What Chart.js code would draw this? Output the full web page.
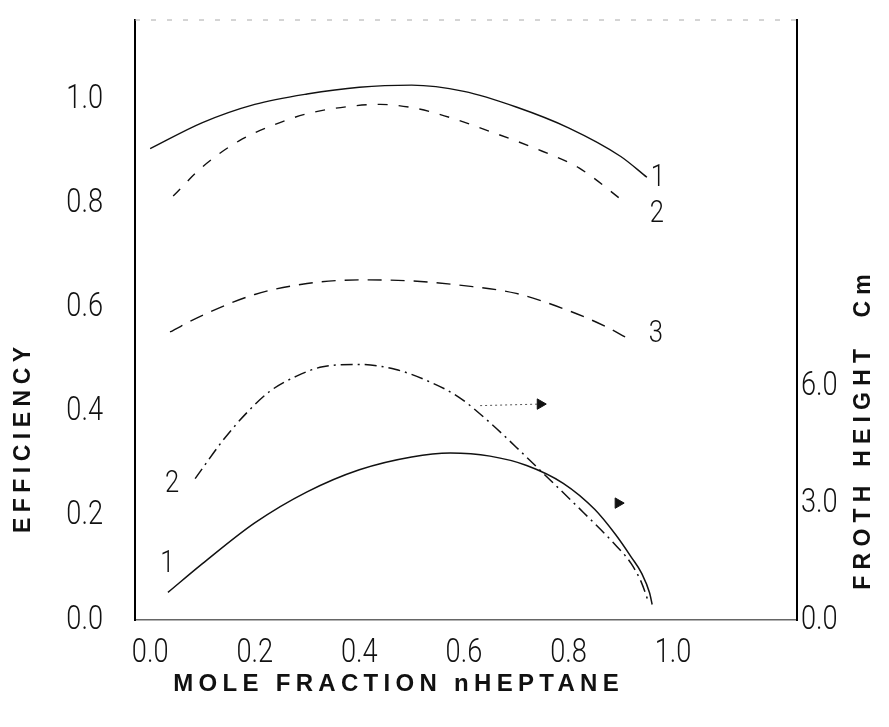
<!DOCTYPE html>
<html>
<head>
<meta charset="utf-8">
<title>Efficiency and froth height vs mole fraction n-heptane</title>
<script src="https://cdn.jsdelivr.net/npm/chart.js@4.4.1/dist/chart.umd.min.js"></script>
<style>
    html, body { margin: 0; padding: 0; background: #fff; }
    #wrap { width: 889px; height: 727px; }
</style>
</head>
<body>
<div id="wrap"><canvas id="froth_chart" width="889" height="727"></canvas></div>
<script>
// efficiency curves (left axis), x = mole fraction nHEPTANE
var effX1 = [0.0, 0.1, 0.2, 0.3, 0.4, 0.5, 0.6, 0.7, 0.8, 0.9, 0.95];
var eff1  = [0.905, 0.955, 0.99, 1.01, 1.023, 1.027, 1.015, 0.985, 0.945, 0.89, 0.85];
var effX2 = [0.044, 0.1, 0.17, 0.23, 0.3, 0.38, 0.44, 0.5, 0.55, 0.65, 0.75, 0.82, 0.91];
var eff2  = [0.814, 0.87, 0.92, 0.948, 0.972, 0.986, 0.99, 0.984, 0.972, 0.938, 0.9, 0.868, 0.80];
var effX3 = [0.038, 0.1, 0.2, 0.3, 0.4, 0.5, 0.6, 0.7, 0.8, 0.87, 0.92];
var eff3  = [0.553, 0.585, 0.625, 0.646, 0.653, 0.651, 0.642, 0.627, 0.594, 0.564, 0.537];

// froth height curves (right axis, cm)
var frothX1 = [0.034, 0.1, 0.2, 0.3, 0.4, 0.5, 0.574, 0.65, 0.72, 0.79, 0.85, 0.89, 0.92, 0.94, 0.955, 0.96];
var froth1  = [0.71, 1.45, 2.5, 3.3, 3.87, 4.2, 4.3, 4.22, 3.98, 3.52, 2.85, 2.2, 1.62, 1.2, 0.7, 0.4];
var frothX2 = [0.086, 0.14, 0.185, 0.23, 0.28, 0.33, 0.40, 0.47, 0.53, 0.59, 0.65, 0.70, 0.75, 0.83, 0.885, 0.92, 0.94, 0.952];
var froth2  = [3.64, 4.64, 5.34, 5.9, 6.28, 6.52, 6.58, 6.45, 6.16, 5.74, 5.08, 4.45, 3.8, 2.75, 2.0, 1.45, 0.95, 0.5];

// arrows telling which curves belong to the right axis
var arrowX1 = [0.631, 0.746];
var arrowY1 = [5.52, 5.56];
var arrowX2 = [0.895];
var arrowY2 = [3.01];

// tick values
var xTicks = [0, 0.2, 0.4, 0.6, 0.8, 1.0];
var effTicks = [0, 0.2, 0.4, 0.6, 0.8, 1.0];
var frothTicks = [0, 3, 6];

function pts(xs, ys) {
    return xs.map(function (x, i) { return { x: x, y: ys[i] }; });
}

// curve numbers, placed in data coordinates
var curveTags = [
    { text: '1', x: 0.971, y: 0.848, axis: 'yEff' },
    { text: '2', x: 0.969, y: 0.779, axis: 'yEff' },
    { text: '3', x: 0.967, y: 0.549, axis: 'yEff' },
    { text: '2', x: 0.042, y: 3.5, axis: 'yFroth' },
    { text: '1', x: 0.033, y: 1.44, axis: 'yFroth' }
];

var numberFont = '300 34px Roboto, "DejaVu Sans", sans-serif';

// narrow, thin figures like the lettering on the original drawing
function squeezed(ctx, text, x, y, align) {
    ctx.save();
    ctx.translate(x, y);
    ctx.scale(0.8, 1);
    ctx.textAlign = align;
    ctx.fillText(text, 0, 0);
    ctx.restore();
}

function spacedText(ctx, text, x, y, angle, font, spacing) {
    ctx.save();
    ctx.translate(x, y);
    ctx.rotate(angle);
    ctx.font = font;
    ctx.letterSpacing = spacing + 'px';
    ctx.textAlign = 'center';
    ctx.textBaseline = 'middle';
    ctx.fillStyle = '#111';
    ctx.fillText(text, spacing / 2, 0);
    ctx.restore();
}

var decorations = {
    id: 'decorations',
    beforeDatasetsDraw(chart) {
        // faint dashed top edge of the frame
        var ctx = chart.ctx, a = chart.chartArea;
        ctx.save();
        ctx.strokeStyle = '#aaa';
        ctx.lineWidth = 1;
        ctx.setLineDash([5, 11]);
        ctx.beginPath();
        ctx.moveTo(a.left, a.top);
        ctx.lineTo(a.right, a.top);
        ctx.stroke();
        ctx.restore();
    },
    afterDraw(chart) {
        var ctx = chart.ctx, a = chart.chartArea;
        var xs = chart.scales.x, ye = chart.scales.yEff, yf = chart.scales.yFroth;
        ctx.save();
        ctx.fillStyle = '#111';
        ctx.font = numberFont;
        ctx.textBaseline = 'middle';
        xTicks.forEach(function (v) { squeezed(ctx, v.toFixed(1), xs.getPixelForValue(v), a.bottom + 33, 'center'); });
        effTicks.forEach(function (v) { squeezed(ctx, v.toFixed(1), a.left - 32, ye.getPixelForValue(v), 'right'); });
        frothTicks.forEach(function (v) { squeezed(ctx, v.toFixed(1), a.right + 4, yf.getPixelForValue(v), 'left'); });

        ctx.font = '300 32px Roboto, "DejaVu Sans", sans-serif';
        curveTags.forEach(function (t) {
            squeezed(ctx, t.text, xs.getPixelForValue(t.x), chart.scales[t.axis].getPixelForValue(t.y), 'center');
        });
        ctx.restore();

        var titleFont = 'bold 23px "Liberation Sans", Arial, sans-serif';
        spacedText(ctx, 'EFFICIENCY', 24, 440, -Math.PI / 2, titleFont, 5.5);
        spacedText(ctx, 'FROTH HEIGHT  Cm', 864, 432, -Math.PI / 2, titleFont, 6.2);
        spacedText(ctx, 'MOLE FRACTION nHEPTANE', 396, 684, 0, 'bold 24px "Liberation Sans", Arial, sans-serif', 5.3);
    }
};

function fixedBox(size, vertical) {
    return function (scale) {
        if (vertical) { scale.width = size; } else { scale.height = size; }
        scale.paddingTop = 0;
        scale.paddingBottom = 0;
        scale.paddingLeft = 0;
        scale.paddingRight = 0;
    };
}

var ctx = document.getElementById('froth_chart');

new Chart(ctx, {
    type: 'line',
    data: {
        datasets: [
            { data: pts(effX1, eff1), yAxisID: 'yEff', borderColor: '#111', borderWidth: 1.4 },
            { data: pts(effX2, eff2), yAxisID: 'yEff', borderColor: '#111', borderWidth: 1.4, borderDash: [10, 11] },
            { data: pts(effX3, eff3), yAxisID: 'yEff', borderColor: '#111', borderWidth: 1.4, borderDash: [14, 9] },
            { data: pts(frothX1, froth1), yAxisID: 'yFroth', borderColor: '#111', borderWidth: 1.5 },
            { data: pts(frothX2, froth2), yAxisID: 'yFroth', borderColor: '#111', borderWidth: 1.5, borderDash: [12, 5, 2, 5] },
            {
                data: pts(arrowX1, arrowY1), yAxisID: 'yFroth', borderColor: '#555', borderWidth: 1, borderDash: [2, 3],
                pointRadius: [0, 6], pointStyle: 'triangle', pointRotation: 90, pointBackgroundColor: '#111', pointBorderColor: '#111'
            },
            {
                data: pts(arrowX2, arrowY2), yAxisID: 'yFroth', showLine: false,
                pointRadius: 6, pointStyle: 'triangle', pointRotation: 90, pointBackgroundColor: '#111', pointBorderColor: '#111'
            }
        ]
    },
    options: {
        responsive: false,
        animation: false,
        layout: { padding: { top: 20, left: 0, right: 0, bottom: 0 } },
        elements: {
            line: { cubicInterpolationMode: 'monotone', fill: false },
            point: { radius: 0, hoverRadius: 0 }
        },
        plugins: {
            legend: { display: false },
            tooltip: { enabled: false }
        },
        scales: {
            x: {
                type: 'linear',
                min: -0.029,
                max: 1.237,
                afterFit: fixedBox(107, false),
                afterBuildTicks(scale) { scale.ticks = xTicks.map(function (v) { return { value: v }; }); },
                grid: { display: false },
                border: { display: true, color: '#666', width: 1.5, dash: [9, 6] },
                ticks: { display: false }
            },
            yEff: {
                type: 'linear',
                position: 'left',
                min: 0,
                max: 1.152,
                afterFit: fixedBox(135, true),
                afterBuildTicks(scale) { scale.ticks = effTicks.map(function (v) { return { value: v }; }); },
                grid: { display: false },
                border: { display: true, color: '#000', width: 2 },
                ticks: { display: false }
            },
            yFroth: {
                type: 'linear',
                position: 'right',
                min: 0,
                max: 15.45,
                afterFit: fixedBox(92, true),
                afterBuildTicks(scale) { scale.ticks = frothTicks.map(function (v) { return { value: v }; }); },
                grid: { display: false },
                border: { display: true, color: '#000', width: 2 },
                ticks: { display: false }
            }
        }
    },
    plugins: [decorations]
});
</script>
</body>
</html>
